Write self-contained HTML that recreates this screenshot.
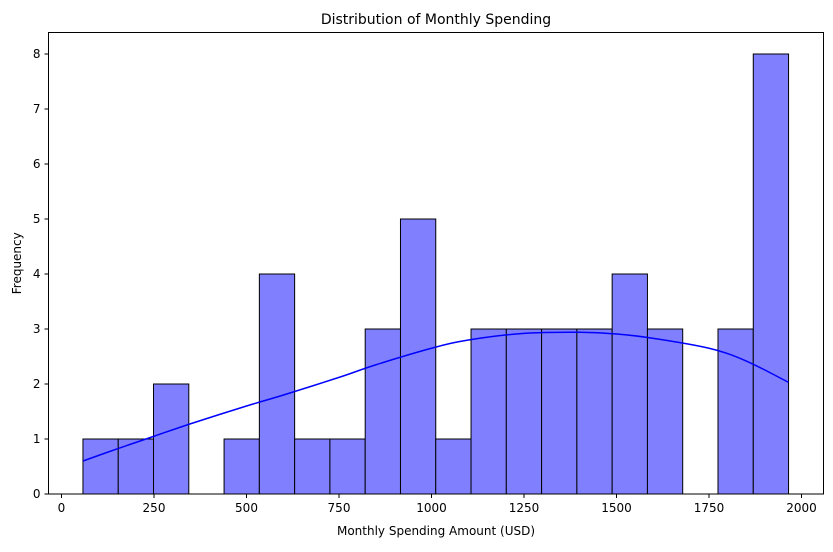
<!DOCTYPE html>
<html><head><meta charset="utf-8"><style>
body{margin:0;background:#fff;font-family:"Liberation Sans","DejaVu Sans",sans-serif;}
svg text{font-family:"DejaVu Sans","Liberation Sans",sans-serif;}
</style></head><body>
<svg id="c" width="833" height="547" xmlns="http://www.w3.org/2000/svg"></svg>
<script>
const binStart = 58;
const binWidth = 95.35;
const counts = [1,1,2,0,1,4,1,1,3,5,1,3,3,3,3,4,3,0,3,8];
const kdeX = [58,150,250,350,500,600,750,850,1000,1100,1250,1400,1500,1600,1750,1850,1965];
const kdeY = [0.6,0.82,1.05,1.28,1.6,1.8,2.12,2.35,2.65,2.8,2.92,2.94,2.91,2.83,2.65,2.42,2.03];
const xTicks = [0,250,500,750,1000,1250,1500,1750,2000];
const yTicks = [0,1,2,3,4,5,6,7,8];
const NS="http://www.w3.org/2000/svg";
const svg=document.getElementById('c');
const L=48.5,R=823.5,T=32.5,B=494;
const X=v=>61.5+(v-0)*0.37;
const Y=v=>B-v*55;
function el(t,a,p){const e=document.createElementNS(NS,t);for(const k in a)e.setAttribute(k,a[k]);(p||svg).appendChild(e);return e;}
counts.forEach((c,i)=>{if(c<=0)return;
 const x0=X(binStart+i*binWidth),x1=X(binStart+(i+1)*binWidth);
 const r=el('rect',{x:x0,y:Y(c),width:x1-x0,height:B-Y(c),fill:'#8080ff',stroke:'#000','stroke-width':1});
 
 
});
const pts=kdeX.map((x,i)=>[X(x),Y(kdeY[i])]);
let d='M'+pts[0][0]+','+pts[0][1];
for(let i=0;i<pts.length-1;i++){
 const p0=pts[Math.max(0,i-1)],p1=pts[i],p2=pts[i+1],p3=pts[Math.min(pts.length-1,i+2)];
 const c1=[p1[0]+(p2[0]-p0[0])/6,p1[1]+(p2[1]-p0[1])/6];
 const c2=[p2[0]-(p3[0]-p1[0])/6,p2[1]-(p3[1]-p1[1])/6];
 d+=' C'+c1[0]+','+c1[1]+' '+c2[0]+','+c2[1]+' '+p2[0]+','+p2[1];
}
const ln=el('path',{d:d,fill:'none',stroke:'#0000ff','stroke-width':1.5});


const fr=el('rect',{x:L,y:T,width:R-L,height:B-T,fill:'none',stroke:'#000','stroke-width':1});


xTicks.forEach(v=>{const x=X(v);
 el('line',{x1:x,x2:x,y1:B,y2:B+4,stroke:'#000'});
 const t=el('text',{x:x,y:B+18,'text-anchor':'middle','font-size':12});t.textContent=v;
 
 
});
yTicks.forEach(v=>{const y=Y(v);
 el('line',{x1:L-4,x2:L,y1:y,y2:y,stroke:'#000'});
 const t=el('text',{x:L-8,y:y+4,'text-anchor':'end','font-size':12});t.textContent=v;
 
 
});
let t=el('text',{x:(L+R)/2,y:24,'text-anchor':'middle','font-size':14});t.textContent='Distribution of Monthly Spending';


t=el('text',{x:(L+R)/2,y:535,'text-anchor':'middle','font-size':12});t.textContent='Monthly Spending Amount (USD)';


t=el('text',{x:21,y:(T+B)/2,'text-anchor':'middle','font-size':12,transform:'rotate(-90 21 '+((T+B)/2)+')'});t.textContent='Frequency';


</script>
</body></html>
